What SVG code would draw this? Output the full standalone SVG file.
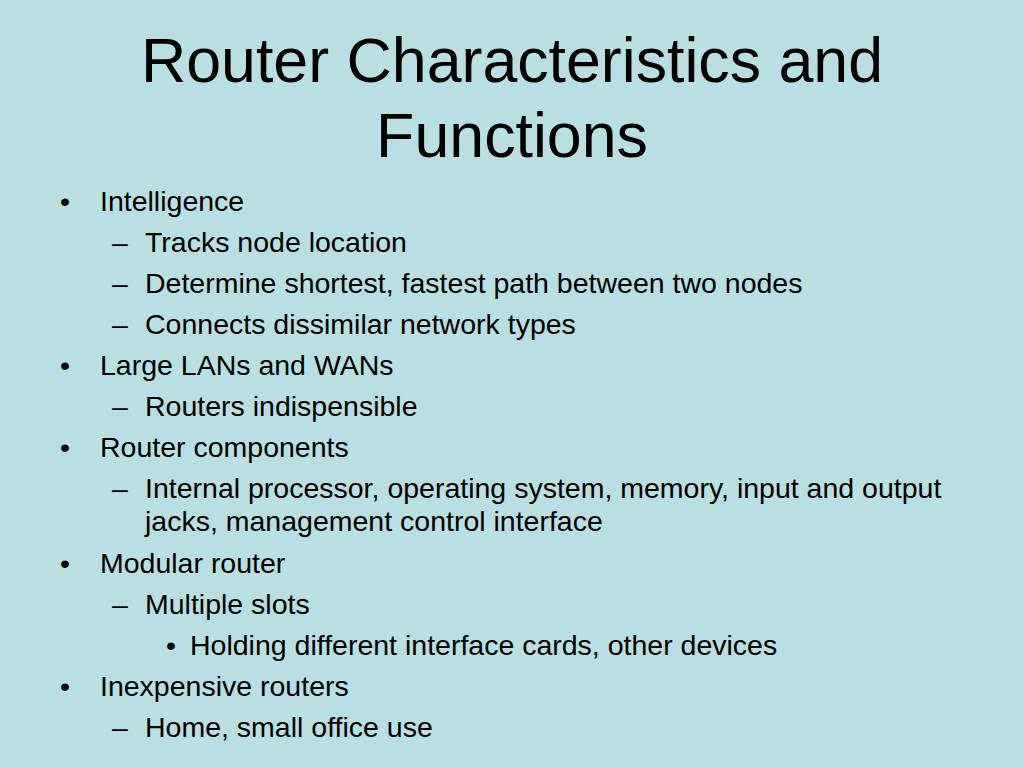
<svg xmlns="http://www.w3.org/2000/svg" width="1024" height="768" viewBox="0 0 1024 768">
<style>
text{font-family:"Liberation Sans",Arial,sans-serif;fill:#000}
.t{font-size:62.7px;text-anchor:middle}
.b{font-size:28.5px}
</style>
<rect width="1024" height="768" fill="#B9DFE3"/>
<g id="title">
<text class="t" x="512" y="82">Router Characteristics and</text>
<text class="t" x="512" y="157">Functions</text>
</g>
<g id="body" class="b">
<text x="60" y="211">•</text><text x="100" y="211">Intelligence</text>
<text x="112" y="252">–</text><text x="145" y="252">Tracks node location</text>
<text x="112" y="293">–</text><text x="145" y="293">Determine shortest, fastest path between two nodes</text>
<text x="112" y="334">–</text><text x="145" y="334">Connects dissimilar network types</text>
<text x="60" y="375">•</text><text x="100" y="375">Large LANs and WANs</text>
<text x="112" y="416">–</text><text x="145" y="416">Routers indispensible</text>
<text x="60" y="457">•</text><text x="100" y="457">Router components</text>
<text x="112" y="498">–</text><text x="145" y="498">Internal processor, operating system, memory, input and output</text>
<text x="145" y="531">jacks, management control interface</text>
<text x="60" y="573">•</text><text x="100" y="573">Modular router</text>
<text x="112" y="614">–</text><text x="145" y="614">Multiple slots</text>
<text x="166" y="655">•</text><text x="190" y="655">Holding different interface cards, other devices</text>
<text x="60" y="696">•</text><text x="100" y="696">Inexpensive routers</text>
<text x="112" y="737">–</text><text x="145" y="737">Home, small office use</text>
</g>
</svg>
